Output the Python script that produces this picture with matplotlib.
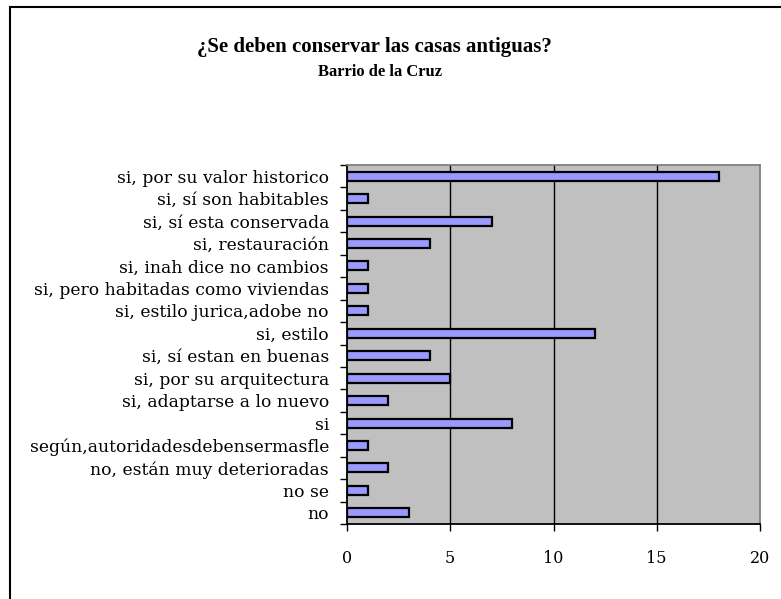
import matplotlib.pyplot as plt
from matplotlib.patches import Rectangle
import numpy as np

# respuestas (de arriba hacia abajo)
respuestas = [
    "si, por su valor historico",
    "si, sí son habitables",
    "si, sí esta conservada",
    "si, restauración",
    "si, inah dice no cambios",
    "si, pero habitadas como viviendas",
    "si, estilo jurica,adobe no",
    "si, estilo",
    "si, sí estan en buenas",
    "si, por su arquitectura",
    "si, adaptarse a lo nuevo",
    "si",
    "según,autoridadesdebensermasfle",
    "no, están muy deterioradas",
    "no se",
    "no",
]
conteo = [18, 1, 7, 4, 1, 1, 1, 12, 4, 5, 2, 8, 1, 2, 1, 3]
x_ticks = [0, 5, 10, 15, 20]

plt.rcParams['font.family'] = ['DejaVu Serif']

fig = plt.figure(figsize=(7.81, 5.99), dpi=100)

# marco del grafico (cortado a la derecha y abajo)
fig.patches.append(Rectangle((10 / 781, -0.05), 1.2, 1 - 7 / 599 + 0.05,
                             transform=fig.transFigure, fill=False,
                             edgecolor='black', linewidth=1.5))

ax = fig.add_axes([347 / 781, 1 - 524 / 599, 413 / 781, 359 / 599])
ax.set_facecolor('#C0C0C0')

y = np.arange(len(respuestas))
ax.barh(y, conteo, height=0.4, color='#9999FF', edgecolor='black',
        linewidth=1.6, zorder=3)

ax.set_xlim(0, 20)
ax.set_ylim(len(respuestas) - 0.5, -0.5)
ax.set_xticks(x_ticks)
ax.set_xticklabels([str(v) for v in x_ticks], fontsize=11.5)
ax.tick_params(axis='x', direction='out', length=5, pad=14, width=1)

ax.set_yticks(y)
ax.set_yticklabels(respuestas, fontsize=12.3)
ax.tick_params(axis='y', which='major', length=0, pad=13)
ax.set_yticks(np.arange(len(respuestas) + 1) - 0.5, minor=True)
ax.tick_params(axis='y', which='minor', direction='out', length=5, width=1)

for v in x_ticks[1:-1]:
    ax.axvline(v, color='black', linewidth=1, zorder=1)

ax.spines['left'].set_color('black')
ax.spines['bottom'].set_color('black')
ax.spines['top'].set_color('#808080')
ax.spines['right'].set_color('#808080')
for s in ax.spines.values():
    s.set_linewidth(1.3)

fig.text(374 / 781, 1 - 47 / 599, '¿Se deben conservar las casas antiguas?',
         ha='center', va='center', fontsize=15, fontweight='bold',
         family='Liberation Serif')
fig.text(380 / 781, 1 - 72 / 599, 'Barrio de la Cruz',
         ha='center', va='center', fontsize=12, fontweight='bold',
         family='Liberation Serif')

fig.savefig('out.png', dpi=100)
